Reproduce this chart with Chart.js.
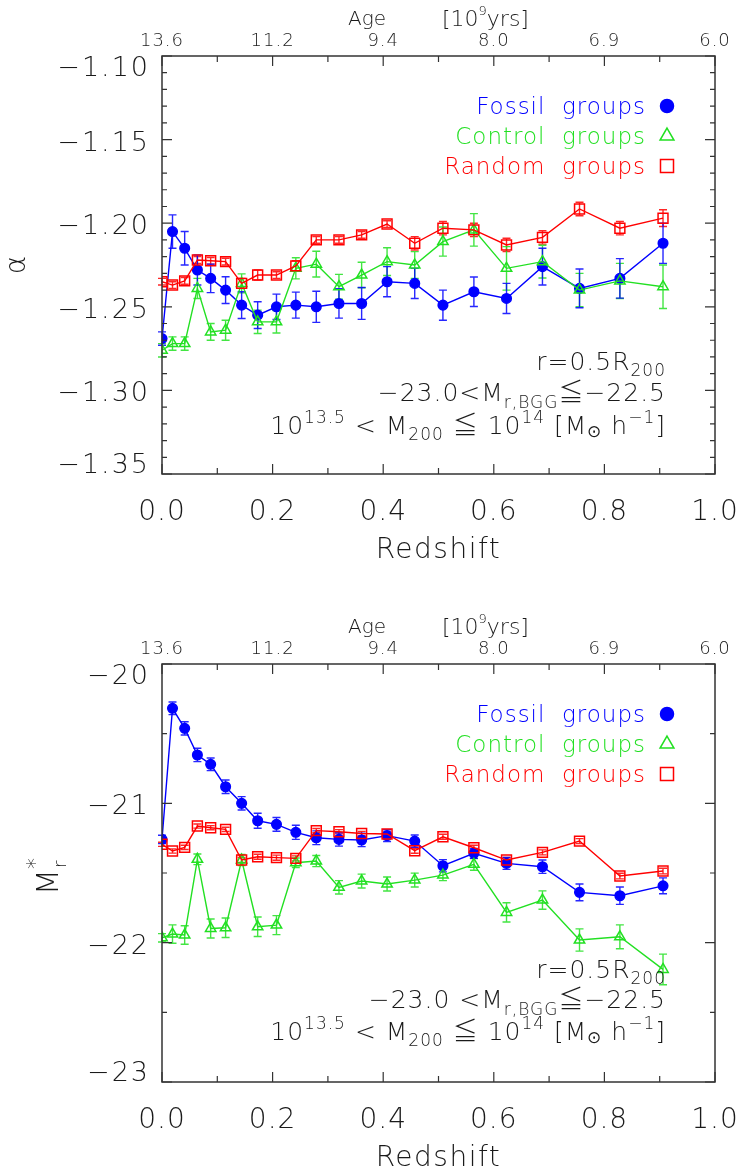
<!DOCTYPE html>
<html>
<head>
<meta charset="utf-8">
<script src="https://cdn.jsdelivr.net/npm/chart.js@4.4.1/dist/chart.umd.min.js"></script>
<style>
  html, body { margin: 0; padding: 0; background: #fff; }
  #wrap { position: relative; width: 740px; height: 1175px; }
  canvas { position: absolute; left: 0; }
</style>
</head>
<body>
<div id="wrap">
  <canvas id="alphaChart" width="740" height="588" style="top:0"></canvas>
  <canvas id="mstarChart" width="740" height="587" style="top:588px"></canvas>
</div>
<script>
// redshift bins shared by all three samples
const redshift = [0.000, 0.019, 0.041, 0.064, 0.088, 0.115, 0.144, 0.173, 0.207, 0.242, 0.279,
                  0.320, 0.361, 0.407, 0.457, 0.508, 0.564, 0.623, 0.688, 0.755, 0.828, 0.906];

// faint-end slope alpha
const fossilAlpha     = [-1.269, -1.205, -1.215, -1.228, -1.233, -1.240, -1.249, -1.255, -1.250, -1.249, -1.250,
                         -1.248, -1.248, -1.235, -1.236, -1.249, -1.241, -1.245, -1.226, -1.239, -1.233, -1.212];
const fossilAlphaErr  = [0.004, 0.010, 0.010, 0.009, 0.0085, 0.008, 0.008, 0.008, 0.0076, 0.0078, 0.0093,
                         0.0088, 0.0095, 0.009, 0.009, 0.009, 0.0088, 0.009, 0.011, 0.0116, 0.0118, 0.012];
const controlAlpha    = [-1.276, -1.272, -1.272, -1.239, -1.265, -1.264, -1.236, -1.259, -1.259, -1.227, -1.2245,
                         -1.238, -1.231, -1.223, -1.225, -1.211, -1.204, -1.227, -1.223, -1.240, -1.2345, -1.238];
const controlAlphaErr = [0.004, 0.004, 0.004, 0.006, 0.005, 0.006, 0.0057, 0.007, 0.0067, 0.0063, 0.0077,
                         0.0074, 0.0076, 0.0083, 0.008, 0.0087, 0.0097, 0.013, 0.0098, 0.010, 0.0105, 0.013];
const randomAlpha     = [-1.235, -1.237, -1.2345, -1.222, -1.2225, -1.223, -1.236, -1.231, -1.231, -1.2255, -1.210,
                         -1.210, -1.207, -1.2005, -1.212, -1.203, -1.204, -1.213, -1.2085, -1.1915, -1.203, -1.197];
const randomAlphaErr  = [0.002, 0.002, 0.002, 0.002, 0.002, 0.002, 0.003, 0.003, 0.002, 0.003, 0.002,
                         0.002, 0.002, 0.002, 0.004, 0.004, 0.004, 0.004, 0.004, 0.004, 0.004, 0.005];

// characteristic magnitude M*_r
const fossilMstar     = [-21.259, -20.318, -20.462, -20.653, -20.720, -20.881, -21.000, -21.125, -21.151, -21.208, -21.247,
                         -21.259, -21.263, -21.232, -21.271, -21.448, -21.359, -21.431, -21.455, -21.639, -21.663, -21.592];
const fossilMstarErr  = [0.030, 0.045, 0.048, 0.048, 0.045, 0.048, 0.048, 0.054, 0.049, 0.051, 0.049,
                         0.048, 0.048, 0.042, 0.044, 0.044, 0.036, 0.043, 0.048, 0.060, 0.062, 0.057];
const controlMstar    = [-21.965, -21.938, -21.945, -21.402, -21.898, -21.893, -21.407, -21.886, -21.874, -21.426, -21.414,
                         -21.603, -21.558, -21.579, -21.551, -21.515, -21.438, -21.783, -21.694, -21.981, -21.958, -22.192];
const controlMstarErr = [0.030, 0.066, 0.066, 0.038, 0.068, 0.070, 0.040, 0.070, 0.068, 0.034, 0.040,
                         0.048, 0.050, 0.050, 0.050, 0.040, 0.042, 0.069, 0.066, 0.080, 0.086, 0.110];
const randomMstar     = [-21.294, -21.342, -21.316, -21.163, -21.175, -21.187, -21.407, -21.383, -21.390, -21.395, -21.196,
                         -21.204, -21.216, -21.220, -21.340, -21.240, -21.319, -21.407, -21.352, -21.271, -21.522, -21.486];
const randomMstarErr  = [0.015, 0.015, 0.015, 0.015, 0.015, 0.015, 0.018, 0.018, 0.018, 0.018, 0.015,
                         0.015, 0.015, 0.015, 0.018, 0.018, 0.018, 0.018, 0.018, 0.018, 0.020, 0.020];

// axis ticks
const redshiftTicks  = [0.0, 0.2, 0.4, 0.6, 0.8, 1.0];
const redshiftMinor  = [0.1, 0.3, 0.5, 0.7, 0.9];
const redshiftLabels = ['0.0', '0.2', '0.4', '0.6', '0.8', '1.0'];
const ageLabels      = ['13.6', '11.2', '9.4', '8.0', '6.9', '6.0'];
const alphaTicks     = [-1.35, -1.30, -1.25, -1.20, -1.15, -1.10];
const alphaLabels    = ['\u22121.35', '\u22121.30', '\u22121.25', '\u22121.20', '\u22121.15', '\u22121.10'];
const alphaMinor     = [-1.34, -1.33, -1.32, -1.31, -1.29, -1.28, -1.27, -1.26, -1.24, -1.23, -1.22, -1.21,
                        -1.19, -1.18, -1.17, -1.16, -1.14, -1.13, -1.12, -1.11];
const mstarTicks     = [-23, -22, -21, -20];
const mstarLabels    = ['\u221223', '\u221222', '\u221221', '\u221220'];
const mstarMinor     = [-22.5, -21.5, -20.5];

const seriesNames = ['Fossil  groups', 'Control  groups', 'Random  groups'];

const BLUE = '#0000ff';
const GREEN = '#22e022';
const RED = '#ff0000';
const INK = '#1a1a1a';
const FONT = '"DejaVu Sans", sans-serif';
const SYMBOL_FONT = '"Noto Sans CJK JP", "DejaVu Sans", sans-serif';
const WEIGHT = '200';

function font(size, family) {
  return `${WEIGHT} ${size}px ${family || FONT}`;
}

// draw a sequence of text runs (sub/superscripts) right-aligned at xRight
function drawRuns(ctx, runs, xRight, baseline, spacing) {
  ctx.letterSpacing = spacing + 'px';
  let total = 0;
  runs.forEach(r => {
    ctx.font = font(r.size, r.family);
    total += ctx.measureText(r.text).width;
  });
  let x = xRight - total;
  ctx.textAlign = 'left';
  ctx.textBaseline = 'alphabetic';
  runs.forEach(r => {
    ctx.font = font(r.size, r.family);
    ctx.fillText(r.text, x, baseline + (r.dy || 0));
    x += ctx.measureText(r.text).width;
  });
  ctx.letterSpacing = '0px';
}

// vertical error bars with caps, taken from dataset.errors
const errorBars = {
  id: 'errorBars',
  beforeDatasetsDraw(chart) {
    const ctx = chart.ctx;
    const xs = chart.scales.x, ys = chart.scales.y;
    ctx.save();
    chart.data.datasets.forEach(ds => {
      if (!ds.errors) return;
      ctx.strokeStyle = ds.borderColor;
      ctx.globalAlpha = 0.85;
      ctx.lineWidth = 1.4;
      ds.data.forEach((p, i) => {
        const e = ds.errors[i];
        const x = xs.getPixelForValue(p.x);
        const y1 = ys.getPixelForValue(p.y - e);
        const y2 = ys.getPixelForValue(p.y + e);
        ctx.beginPath();
        ctx.moveTo(x, y1); ctx.lineTo(x, y2);
        ctx.moveTo(x - 4, y1); ctx.lineTo(x + 4, y1);
        ctx.moveTo(x - 4, y2); ctx.lineTo(x + 4, y2);
        ctx.stroke();
      });
    });
    ctx.restore();
  }
};

// box frame with inward ticks, labels, legend and notes
function framePlugin(cfg) {
  return {
    id: 'frame',
    afterDraw(chart) {
      const ctx = chart.ctx;
      const xs = chart.scales.x, ys = chart.scales.y;
      const { left, right, top, bottom } = chart.chartArea;
      ctx.save();

      ctx.strokeStyle = '#333';
      ctx.lineWidth = 1.5;
      ctx.strokeRect(left, top, right - left, bottom - top);

      ctx.lineWidth = 1.2;
      ctx.beginPath();
      const xTick = (v, len) => {
        const x = xs.getPixelForValue(v);
        ctx.moveTo(x, bottom); ctx.lineTo(x, bottom - len);
        ctx.moveTo(x, top); ctx.lineTo(x, top + len);
      };
      const yTick = (v, len) => {
        const y = ys.getPixelForValue(v);
        ctx.moveTo(left, y); ctx.lineTo(left + len, y);
        ctx.moveTo(right, y); ctx.lineTo(right - len, y);
      };
      redshiftTicks.forEach(v => xTick(v, 10));
      redshiftMinor.forEach(v => xTick(v, 6));
      cfg.yTicks.forEach(v => yTick(v, 10));
      cfg.yMinor.forEach(v => yTick(v, 5));
      ctx.stroke();

      ctx.fillStyle = INK;

      // y tick labels
      ctx.font = font(27);
      ctx.letterSpacing = '2px';
      ctx.textAlign = 'right';
      ctx.textBaseline = 'middle';
      cfg.yTicks.forEach((v, i) => {
        let y = ys.getPixelForValue(v) + 4;
        y = Math.min(Math.max(y, top + 13), bottom - 8);
        ctx.fillText(cfg.yLabels[i], left - 12, y);
      });

      // redshift labels and title
      ctx.font = font(28);
      ctx.letterSpacing = '1px';
      ctx.textAlign = 'center';
      redshiftTicks.forEach((v, i) => {
        ctx.fillText(redshiftLabels[i], xs.getPixelForValue(v), bottom + 39);
      });
      ctx.letterSpacing = '1.5px';
      ctx.fillText('Redshift', (left + right) / 2, bottom + 77);

      // age along the top
      ctx.font = font(18);
      ctx.letterSpacing = '1px';
      redshiftTicks.forEach((v, i) => {
        ctx.fillText(ageLabels[i], xs.getPixelForValue(v), top - 15);
      });
      ctx.font = font(20);
      ctx.letterSpacing = '0px';
      ctx.fillText('Age', 367, top - 36);
      ctx.textAlign = 'left';
      let ax = 442;
      ctx.font = font(22);
      ctx.fillText('[10', ax, top - 36);
      ax += ctx.measureText('[10').width;
      ctx.font = font(13);
      ctx.fillText('9', ax, top - 44);
      ax += ctx.measureText('9').width;
      ctx.font = font(22);
      ctx.fillText('yrs]', ax, top - 36);

      // y axis title
      ctx.save();
      ctx.translate(cfg.titleX, (top + bottom) / 2);
      ctx.rotate(-Math.PI / 2);
      ctx.textBaseline = 'alphabetic';
      if (cfg.title === 'alpha') {
        ctx.textAlign = 'center';
        ctx.font = font(28);
        ctx.fillText('\u03b1', 0, 8);
      } else {
        ctx.textAlign = 'left';
        ctx.font = font(30);
        const mw = ctx.measureText('M').width;
        ctx.fillText('M', -22, 10);
        ctx.font = font(18);
        ctx.fillText('r', -22 + mw + 1, 18);
        ctx.font = font(22);
        ctx.fillText('*', -22 + mw, -6);
      }
      ctx.restore();

      // legend: coloured names with their marker on the right
      const legendColors = [BLUE, GREEN, RED];
      const legendStyles = ['circle', 'triangle', 'rect'];
      const legendRadius = [6.5, 8, 9.2];
      seriesNames.forEach((name, i) => {
        const base = top + 58 + i * 30;
        ctx.fillStyle = legendColors[i];
        ctx.font = font(23);
        ctx.letterSpacing = '1px';
        ctx.textAlign = 'right';
        ctx.textBaseline = 'alphabetic';
        ctx.fillText(name, 646, base);
        ctx.letterSpacing = '0px';
        ctx.strokeStyle = legendColors[i];
        ctx.fillStyle = i === 0 ? legendColors[i] : 'rgba(0,0,0,0)';
        ctx.lineWidth = 1.5;
        Chart.helpers.drawPoint(ctx, {
          pointStyle: legendStyles[i],
          radius: legendRadius[i],
          borderWidth: 1.5
        }, 667, base - 8);
      });

      // selection notes
      ctx.fillStyle = INK;
      cfg.notes.forEach((runs, i) => {
        drawRuns(ctx, runs, 666, top + cfg.noteBase[i], 1);
      });

      ctx.restore();
    }
  };
}

function series(label, xs, ys, errs, color, style, radius, fill) {
  return {
    label: label,
    data: xs.map((x, i) => ({ x: x, y: ys[i] })),
    errors: errs,
    borderColor: color,
    backgroundColor: fill ? color : 'rgba(0,0,0,0)',
    pointBackgroundColor: fill ? color : 'rgba(0,0,0,0)',
    pointBorderColor: color,
    pointStyle: style,
    pointRadius: radius,
    pointBorderWidth: 1.5,
    borderWidth: 1.4,
    tension: 0,
    fill: false
  };
}

function panelOptions(yMin, yMax, padding) {
  return {
    responsive: false,
    animation: false,
    events: [],
    layout: { padding: padding },
    plugins: { legend: { display: false }, tooltip: { enabled: false }, title: { display: false } },
    scales: {
      x: { type: 'linear', min: 0, max: 1, display: false },
      y: { type: 'linear', min: yMin, max: yMax, display: false }
    }
  };
}

const sub = 17;
const LEQ = { text: '\u2266', size: 25, family: SYMBOL_FONT };
const notesTop = [
  [{ text: 'r=0.5R', size: 25 }, { text: '200', size: sub, dy: 6 }],
  [{ text: '\u221223.0<M', size: 25 }, { text: 'r,BGG', size: sub, dy: 7 }, LEQ, { text: '\u221222.5', size: 25 }],
  [{ text: '10', size: 25 }, { text: '13.5', size: sub, dy: -11 }, { text: ' < M', size: 25 },
   { text: '200', size: sub, dy: 6 }, { text: ' ', size: 25 }, LEQ, { text: ' 10', size: 25 },
   { text: '14', size: sub, dy: -11 }, { text: ' [M', size: 25 }, { text: '\u2299', size: sub, dy: 3 },
   { text: ' h', size: 25 }, { text: '\u22121', size: sub, dy: -11 }, { text: ']', size: 25 }]
];
const notesBottom = [
  notesTop[0],
  [{ text: '\u221223.0 <M', size: 25 }, { text: 'r,BGG', size: sub, dy: 7 }, LEQ, { text: '\u221222.5', size: 25 }],
  notesTop[2]
];

new Chart(document.getElementById('alphaChart'), {
  type: 'line',
  data: {
    datasets: [
      series('Random groups', redshift, randomAlpha, randomAlphaErr, RED, 'rect', 7, false),
      series('Control groups', redshift, controlAlpha, controlAlphaErr, GREEN, 'triangle', 6, false),
      series('Fossil groups', redshift, fossilAlpha, fossilAlphaErr, BLUE, 'circle', 4.8, true)
    ]
  },
  options: panelOptions(-1.35, -1.10, { left: 162, right: 25, top: 56, bottom: 114 }),
  plugins: [errorBars, framePlugin({
    yTicks: alphaTicks, yLabels: alphaLabels, yMinor: alphaMinor,
    title: 'alpha', titleX: 17,
    notes: notesTop, noteBase: [314, 345, 378]
  })]
});

new Chart(document.getElementById('mstarChart'), {
  type: 'line',
  data: {
    datasets: [
      series('Random groups', redshift, randomMstar, randomMstarErr, RED, 'rect', 7, false),
      series('Control groups', redshift, controlMstar, controlMstarErr, GREEN, 'triangle', 6, false),
      series('Fossil groups', redshift, fossilMstar, fossilMstarErr, BLUE, 'circle', 4.8, true)
    ]
  },
  options: panelOptions(-23, -20, { left: 162, right: 25, top: 76, bottom: 93 }),
  plugins: [errorBars, framePlugin({
    yTicks: mstarTicks, yLabels: mstarLabels, yMinor: mstarMinor,
    title: 'mstar', titleX: 48,
    notes: notesBottom, noteBase: [314, 344, 376]
  })]
});
</script>
</body>
</html>
